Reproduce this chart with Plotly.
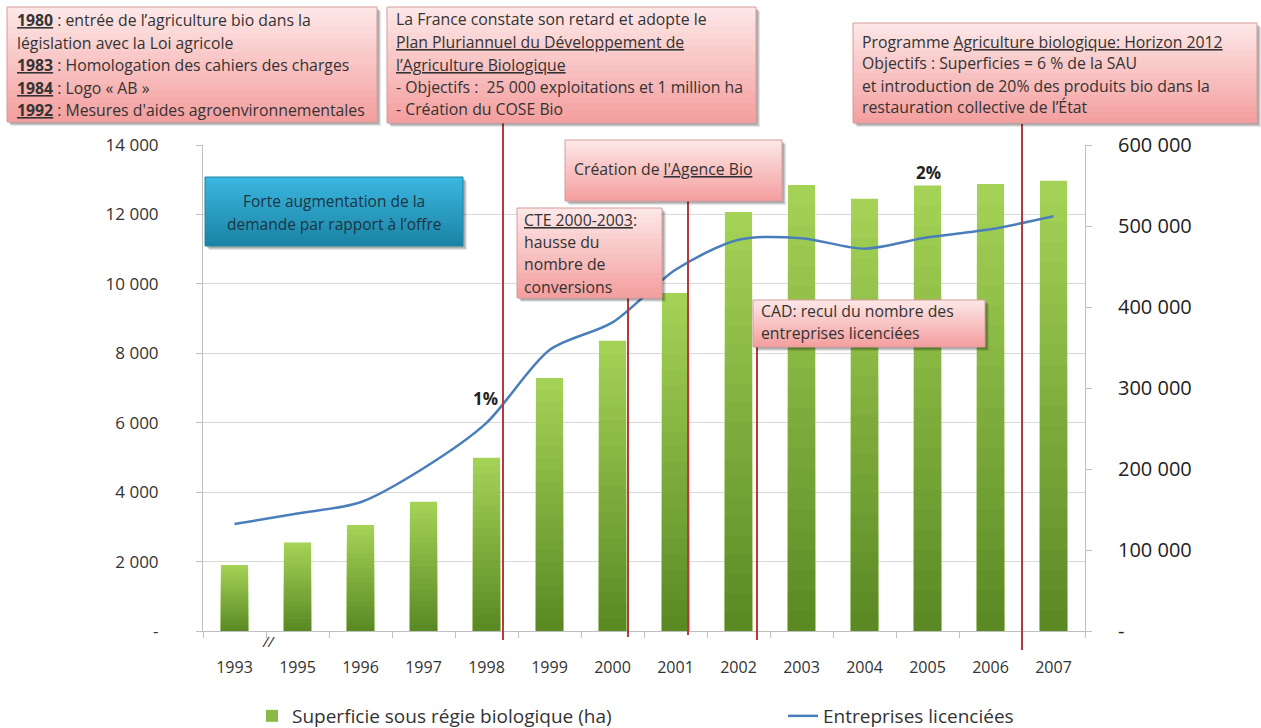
import plotly.graph_objects as go

# ---- data -------------------------------------------------------------
years = ["1993", "1995", "1996", "1997", "1998", "1999", "2000",
         "2001", "2002", "2003", "2004", "2005", "2006", "2007"]
surface_ha = [1900, 2550, 3050, 3720, 4990, 7290, 8360,
              9740, 12070, 12850, 12450, 12830, 12880, 12970]
entreprises = [132000, 145000, 159000, 201000, 257000, 347000, 381000,
               446000, 483000, 485000, 472000, 486000, 496000, 512000]

left_ticks = [0, 2000, 4000, 6000, 8000, 10000, 12000, 14000]
left_labels = ["-", "2 000", "4 000", "6 000", "8 000", "10 000", "12 000", "14 000"]
right_ticks = [0, 100000, 200000, 300000, 400000, 500000, 600000]
right_labels = ["-", "100 000", "200 000", "300 000", "400 000", "500 000", "600 000"]

# ---- page geometry (pixels) -----------------------------------------------
W, H = 1261, 728
L, R, T, B = 203, 1085, 145, 631
FONT = "Open Sans"
TXT = "#333333"
CALLOUT_SIZE = 15.8


def px(x):
    return (x - L) / (R - L)


def py(y):
    return (B - y) / (B - T)


def mix(c0, c1, t):
    a = [int(c0[i:i + 2], 16) for i in (1, 3, 5)]
    b = [int(c1[i:i + 2], 16) for i in (1, 3, 5)]
    return "rgb({},{},{})".format(*[round(a[k] + (b[k] - a[k]) * t) for k in range(3)])


shapes = []
annotations = []


def gradient_box(x0, y0, x1, y1, top, bottom, border, steps=18):
    # soft drop shadow
    for off, alpha in ((4, 0.10), (3, 0.12), (2, 0.14)):
        shapes.append(dict(type="rect", xref="paper", yref="paper", layer="above",
                           x0=px(x0 + off), x1=px(x1 + off), y0=py(y0 + off), y1=py(y1 + off),
                           fillcolor=f"rgba(0,0,0,{alpha})", line=dict(width=0)))
    h = (y1 - y0) / steps
    for i in range(steps):
        shapes.append(dict(type="rect", xref="paper", yref="paper", layer="above",
                           x0=px(x0), x1=px(x1), y0=py(y0 + i * h),
                           y1=py(min(y1, y0 + (i + 1) * h + 0.8)),
                           fillcolor=mix(top, bottom, i / (steps - 1)), line=dict(width=0)))
    shapes.append(dict(type="rect", xref="paper", yref="paper", layer="above",
                       x0=px(x0), x1=px(x1), y0=py(y0), y1=py(y1),
                       fillcolor="rgba(0,0,0,0)", line=dict(color=border, width=1)))


def box_text(lines, x, ys, size=CALLOUT_SIZE, anchor="left", color=TXT):
    for line, y in zip(lines, ys):
        annotations.append(dict(text=line, x=px(x), y=py(y), xref="paper", yref="paper",
                                xanchor=anchor, yanchor="middle", showarrow=False,
                                font=dict(family=FONT, size=size, color=color)))


def connector(x, y0, y1):
    shapes.append(dict(type="line", xref="paper", yref="paper", layer="above",
                       x0=px(x), x1=px(x), y0=py(y0), y1=py(y1),
                       line=dict(color="#b8383b", width=2)))


PINK_TOP, PINK_BOT, PINK_EDGE = "#fde6e6", "#f4a0a0", "#d99a9a"

# connectors from callouts to the timeline
connector(503, 122, 640)
connector(628, 298, 637)
connector(688, 201, 635)
connector(757, 347, 640)
connector(1022, 124, 650)

# callout: early history
gradient_box(7, 7, 377, 122, PINK_TOP, PINK_BOT, PINK_EDGE)
box_text(["<b><u>1980</u></b> : entrée de l’agriculture bio dans la",
          "législation avec la Loi agricole",
          "<b><u>1983</u></b> : Homologation des cahiers des charges",
          "<b><u>1984</u></b> : Logo « AB »",
          "<b><u>1992</u></b> : Mesures d'aides agroenvironnementales"],
         15, [20, 43, 65, 88, 110])

# callout: multi-year plan
gradient_box(387, 7, 756, 123, PINK_TOP, PINK_BOT, PINK_EDGE)
box_text(["La France constate son retard et adopte le",
          "<u>Plan Pluriannuel du Développement de</u>",
          "<u>l’Agriculture Biologique</u>",
          "- Objectifs :  25 000 exploitations et 1 million ha",
          "- Création du COSE Bio"],
         394, [19, 42, 65, 87, 109])

# callout: Horizon 2012
gradient_box(853, 23, 1257, 123, PINK_TOP, PINK_BOT, PINK_EDGE)
box_text(["Programme <u>Agriculture biologique: Horizon 2012</u>",
          "Objectifs : Superficies = 6 % de la SAU",
          "et introduction de 20% des produits bio dans la",
          "restauration collective de l’État"],
         860, [42, 63, 86, 107])

# callout: Agence Bio
gradient_box(565, 140, 782, 201, PINK_TOP, PINK_BOT, PINK_EDGE)
box_text(["Création de <u>l'Agence Bio</u>"], 572, [169])

# callout: CTE
gradient_box(517, 208, 662, 298, PINK_TOP, PINK_BOT, PINK_EDGE)
box_text(["<u>CTE 2000-2003</u>:", "hausse du", "nombre de", "conversions"],
         522, [220, 242, 264, 287])

# callout: CAD
gradient_box(753, 300, 985, 347, PINK_TOP, PINK_BOT, PINK_EDGE)
box_text(["CAD: recul du nombre des", "entreprises licenciées"], 759, [311, 333])

# demand box
gradient_box(205, 177, 463, 246, "#3bb6de", "#1a84a6", "#1f86a6")
box_text(["Forte augmentation de la", "demande par rapport à l’offre"],
         334, [201, 224], size=15.5, anchor="center", color="#1d3442")

# share labels and axis break mark
box_text(["<b>1%</b>"], 485, [398], size=17, anchor="center", color="#222222")
box_text(["<b>2%</b>"], 928, [173], size=17, anchor="center", color="#222222")
box_text(["<i>//</i>"], 268, [641], size=15, anchor="center", color="#333333")

# ---- traces -------------------------------------------------------------
fig = go.Figure()

# bars shaded light at the top to darker at the base
steps = 22
for k in range(steps):
    frac = 1 - k / steps
    fig.add_trace(go.Bar(
        x=years, y=[v * frac for v in surface_ha],
        marker=dict(color=mix("#a4d256", "#5b8a25", k / (steps - 1)), line=dict(width=0)),
        name="Superficie sous régie biologique (ha)",
        showlegend=(k == steps // 3), legendgroup="bars", legend="legend",
        hoverinfo="skip" if k else None,
    ))

fig.add_trace(go.Scatter(
    x=years, y=entreprises, yaxis="y2", mode="lines",
    line=dict(color="#4a7ebb", width=2.5, shape="spline", smoothing=0.8),
    name="Entreprises licenciées", legend="legend2",
))

legend_common = dict(orientation="h", xanchor="left", yanchor="middle",
                     xref="container", yref="container",
                     font=dict(family=FONT, size=19, color=TXT),
                     itemwidth=30, bgcolor="rgba(0,0,0,0)")

fig.update_layout(
    width=W, height=H,
    margin=dict(l=L, r=W - R, t=T, b=H - B, autoexpand=False),
    paper_bgcolor="white", plot_bgcolor="white",
    barmode="overlay", bargap=0.57,
    font=dict(family=FONT, color=TXT),
    shapes=shapes, annotations=annotations,
    showlegend=True,
    legend=dict(x=252 / W, y=1 - 716 / H, **legend_common),
    legend2=dict(x=783 / W, y=1 - 716 / H, **legend_common),
    xaxis=dict(type="category", showgrid=False, showline=True, linecolor="#bfbfbf",
               ticks="outside", tickson="boundaries", ticklen=6, tickcolor="#bfbfbf",
               tickfont=dict(family=FONT, size=16, color=TXT), ticklabelstandoff=22,
               automargin=False, fixedrange=True),
    yaxis=dict(range=[0, 14000], tickvals=left_ticks, ticktext=left_labels,
               showgrid=True, gridcolor="#d9d9d9", gridwidth=1, zeroline=False,
               showline=True, linecolor="#bfbfbf", ticks="outside", ticklen=6,
               tickcolor="#bfbfbf", tickfont=dict(family=FONT, size=17, color=TXT),
               ticklabelstandoff=34, automargin=False),
    yaxis2=dict(range=[0, 600000], tickvals=right_ticks, ticktext=right_labels,
                overlaying="y", side="right", showgrid=False, zeroline=False,
                showline=True, linecolor="#bfbfbf", ticks="outside", ticklen=6,
                tickcolor="#bfbfbf", tickfont=dict(family=FONT, size=20, color="#222222"),
                ticklabelstandoff=22, automargin=False),
)

fig.write_html("out.html")
